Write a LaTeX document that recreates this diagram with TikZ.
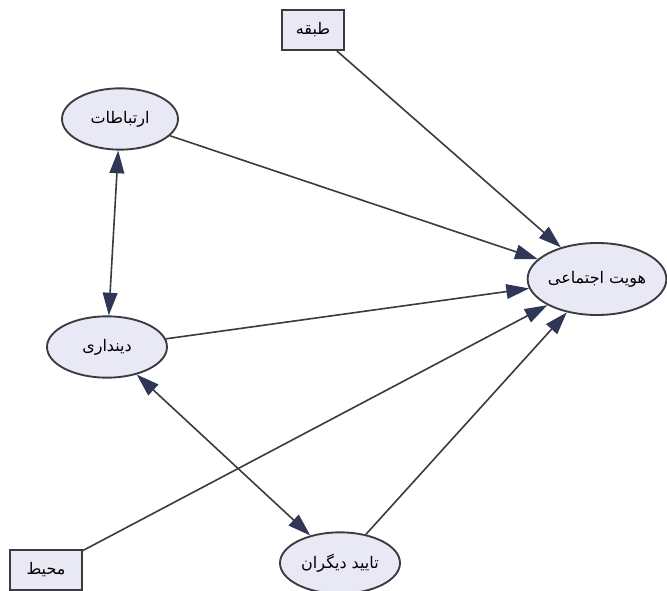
\documentclass[tikz,border=0pt]{standalone}
\usepackage{fontspec}
\usepackage{xcolor}
\usepackage{tikz}
\usetikzlibrary{arrows.meta,shapes.geometric}
\TeXXeTstate=1
\newfontfamily\arabicfont[Script=Arabic]{DejaVu Sans}

\definecolor{nodefill}{RGB}{232,233,245}
\definecolor{edgecol}{RGB}{58,58,64}
\definecolor{tipcol}{RGB}{48,54,86}

\tikzset{
  latent/.style={ellipse,draw=edgecol,line width=1.4pt,fill=nodefill,inner sep=0pt,font=\arabicfont\fontsize{12}{14}\selectfont},
  observed/.style={rectangle,draw=edgecol,line width=1.4pt,fill=nodefill,inner sep=0pt,font=\arabicfont\fontsize{12}{14}\selectfont},
  path/.style={draw=edgecol,line width=1.2pt,-{Triangle[length=17pt,width=11pt,color=tipcol]}},
  twoway/.style={draw=edgecol,line width=1.2pt,{Triangle[length=17pt,width=11pt,color=tipcol]}-{Triangle[length=17pt,width=11pt,color=tipcol]}}
}

\begin{document}
\begin{tikzpicture}[x=0.75pt,y=0.75pt,yscale=-1,xscale=1]
\useasboundingbox (0,0) rectangle (667,591);

% Text Node
\node [observed,minimum width=47pt,minimum height=30pt] (tabaqe) at (313,30) {\beginR طبقه\endR};
% Text Node
\node [latent,minimum width=87pt,minimum height=46pt] (ertebatat) at (120,119) {\beginR ارتباطات\endR};
% Text Node
\node [latent,minimum width=104pt,minimum height=54pt] (hoviyat) at (597,279) {\beginR هویت اجتماعی\endR};
% Text Node
\node [latent,minimum width=90pt,minimum height=46pt] (dindari) at (107,347) {\beginR دینداری\endR};
% Text Node
\node [latent,minimum width=90pt,minimum height=46pt] (taeid) at (340,563) {\beginR تایید دیگران\endR};
% Text Node
\node [observed,minimum width=54pt,minimum height=30pt] (mohit) at (46,570) {\beginR محیط\endR};

%Straight Lines
\draw [path] (tabaqe) -- (hoviyat);
\draw [path] (ertebatat) -- (hoviyat);
\draw [path] (dindari) -- (hoviyat);
\draw [path] (mohit) -- (hoviyat);
\draw [path] (taeid) -- (hoviyat);
%Straight Lines
\draw [twoway] (ertebatat) -- (dindari);
\draw [twoway] (dindari) -- (taeid);
\end{tikzpicture}
\end{document}
